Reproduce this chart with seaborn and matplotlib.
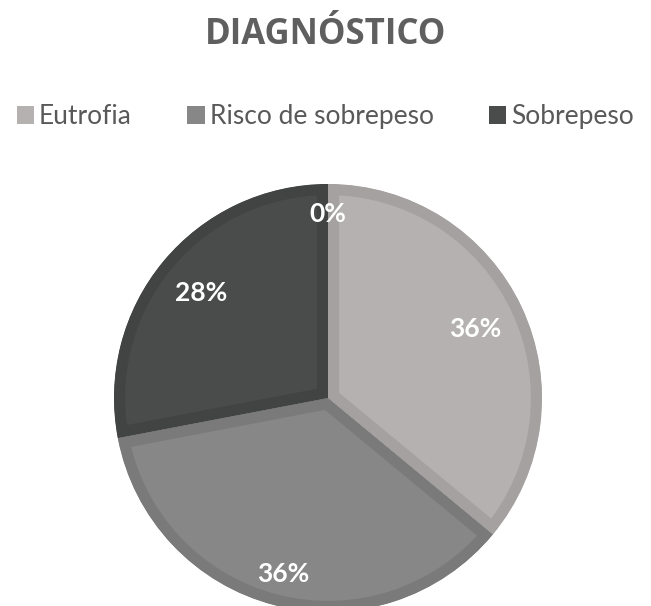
import numpy as np
import matplotlib.pyplot as plt
import seaborn as sns
from matplotlib.patches import Patch

sns.set_style('white')
plt.rcParams['font.family'] = ['Lato', 'DejaVu Sans']

# data: counts per category (last one is an empty category, shown only as 0%)
categories = ['Eutrofia', 'Risco de sobrepeso', 'Sobrepeso', '']
counts = [9, 9, 7, 0]
fills = ['#b4b1b0', '#878787', '#4a4b4b', '#4a4b4b']
edges = ['#a4a1a0', '#7a7a7a', '#424343', '#424343']
label_dist = [0.76, 0.85, 0.77, 0.86]

fig = plt.figure(figsize=(6.51, 6.06), dpi=100)
W, H = 651, 606
cx, cy, r = 328, 398, 214
ax = fig.add_axes([(cx - r) / W, (H - cy - r) / H, 2 * r / W, 2 * r / H])

wedges, _ = ax.pie(counts, colors=fills, startangle=90, counterclock=False,
                   radius=1, wedgeprops=dict(linewidth=0))
# inner border like the excel style: stroke clipped to the wedge itself
for w, ec in zip(wedges, edges):
    w.set_edgecolor(ec)
    w.set_linewidth(16)
    w.set_clip_on(True)
    w.set_clip_path(w.get_path(), w.get_transform())

total = sum(counts)
start = 90.0
for v, d in zip(counts, label_dist):
    ang = start - 360 * v / total / 2
    start -= 360 * v / total
    t = np.deg2rad(ang)
    ax.text(d * np.cos(t), d * np.sin(t), f'{100 * v / total:.0f}%',
            ha='center', va='center', color='white', fontsize=19,
            fontweight='bold')

ax.set_xlim(-1, 1)
ax.set_ylim(-1, 1)
ax.set_aspect('equal')
ax.axis('off')

fig.text(0.5, 1 - 35 / H, 'DIAGNÓSTICO', ha='center', va='center',
         fontsize=25, fontweight='bold', color='#5f5f5f',
         family=['Open Sans', 'DejaVu Sans'])

handles = [Patch(facecolor=c, edgecolor='none') for c in fills[:3]]
fig.legend(handles, categories[:3], loc='center', bbox_to_anchor=(0.5, 1 - 117 / H),
           ncol=3, frameon=False, fontsize=19, labelcolor='#595959',
           handlelength=0.65, handleheight=0.65, handletextpad=0.2,
           columnspacing=2.1)

fig.savefig('out.png', dpi=100)
